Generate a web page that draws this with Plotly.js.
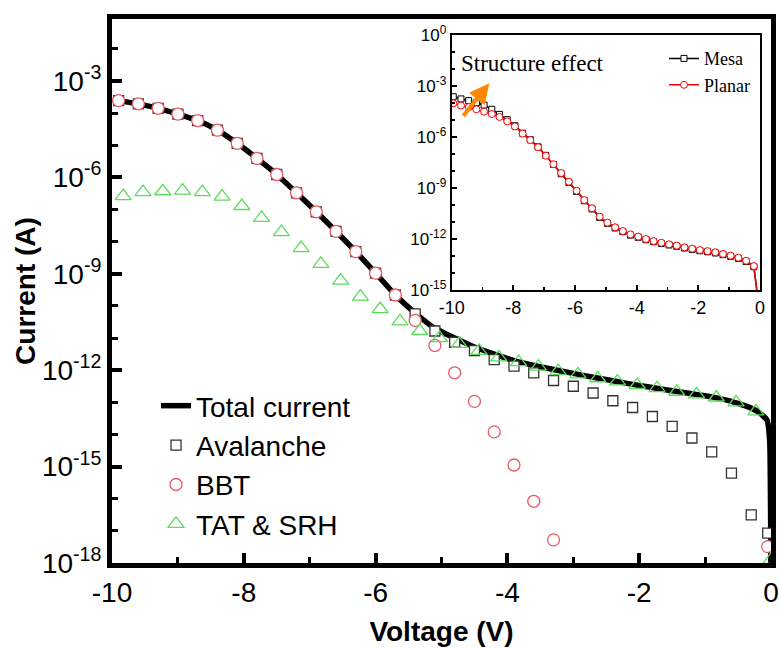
<!DOCTYPE html>
<html>
<head>
<meta charset="utf-8">
<script src="https://cdn.plot.ly/plotly-3.0.1.min.js"></script>
<style>html,body{margin:0;padding:0;background:#fff;}#chart{width:780px;height:648px;}</style>
</head>
<body>
<div id="chart"></div>
<script>
// ---------- Main plot data (voltage in V, current as log10(A)) ----------
const voltage = [-9.9,-9.6,-9.3,-9.0,-8.7,-8.4,-8.1,-7.8,-7.5,-7.2,-6.9,-6.6,-6.3,-6.0,-5.7,-5.4,-5.1,-4.8,-4.5,-4.2,-3.9,-3.6,-3.3,-3.0,-2.7,-2.4,-2.1,-1.8,-1.5,-1.2,-0.9,-0.6,-0.3,-0.05];
const avalancheLog = [-3.61,-3.71,-3.85,-4.03,-4.23,-4.53,-4.94,-5.41,-5.91,-6.48,-7.07,-7.68,-8.31,-8.98,-9.66,-10.25,-10.78,-11.13,-11.39,-11.67,-11.87,-12.08,-12.32,-12.50,-12.71,-12.95,-13.16,-13.44,-13.75,-14.11,-14.54,-15.2,-16.5,-17.07];
const bbtVoltage = [-9.9,-9.6,-9.3,-9.0,-8.7,-8.4,-8.1,-7.8,-7.5,-7.2,-6.9,-6.6,-6.3,-6.0,-5.7,-5.4,-5.1,-4.8,-4.5,-4.2,-3.9,-3.6,-3.3,-0.05];
const bbtLog = [-3.61,-3.71,-3.85,-4.03,-4.23,-4.53,-4.94,-5.41,-5.91,-6.48,-7.07,-7.68,-8.31,-8.98,-9.66,-10.45,-11.23,-12.08,-12.97,-13.92,-14.95,-16.08,-17.28,-17.49];
const tatVoltage = [-9.83,-9.53,-9.23,-8.93,-8.63,-8.33,-8.03,-7.73,-7.43,-7.13,-6.83,-6.53,-6.23,-5.93,-5.63,-5.33,-5.03,-4.73,-4.43,-4.13,-3.83,-3.53,-3.23,-2.93,-2.63,-2.33,-2.03,-1.73,-1.43,-1.13,-0.83,-0.53,-0.23,0];
const tatLog = [-6.58,-6.46,-6.43,-6.41,-6.46,-6.60,-6.89,-7.26,-7.70,-8.20,-8.69,-9.21,-9.71,-10.1,-10.48,-10.78,-11.0,-11.18,-11.4,-11.6,-11.75,-11.89,-12.03,-12.13,-12.25,-12.35,-12.46,-12.56,-12.67,-12.75,-12.85,-13.0,-13.28,-17.9];
const totalVoltage = [-9.9,-9.6,-9.3,-9.0,-8.7,-8.4,-8.1,-7.8,-7.5,-7.2,-6.9,-6.6,-6.3,-6.0,-5.7,-5.4,-5.1,-4.8,-4.5,-4.2,-3.9,-3.6,-3.3,-3.0,-2.7,-2.4,-2.1,-1.8,-1.5,-1.2,-0.9,-0.6,-0.3,-0.18,-0.06,-0.02,0];
const totalLog = [-3.61,-3.71,-3.85,-4.03,-4.23,-4.53,-4.94,-5.41,-5.91,-6.48,-7.07,-7.68,-8.31,-8.98,-9.66,-10.22,-10.7,-11.0,-11.28,-11.5,-11.7,-11.85,-11.98,-12.1,-12.22,-12.33,-12.44,-12.54,-12.64,-12.73,-12.83,-12.97,-13.18,-13.32,-13.55,-14.2,-19];

// ---------- Inset data ----------
const insetVoltage = [-9.95,-9.7,-9.45,-9.2,-8.95,-8.7,-8.45,-8.2,-7.95,-7.7,-7.45,-7.2,-6.95,-6.7,-6.45,-6.2,-5.95,-5.7,-5.45,-5.2,-4.95,-4.7,-4.45,-4.2,-3.95,-3.7,-3.45,-3.2,-2.95,-2.7,-2.45,-2.2,-1.95,-1.7,-1.45,-1.2,-0.95,-0.7,-0.45,-0.2,0];
const mesaLog = [-3.63,-3.76,-3.86,-3.98,-4.12,-4.37,-4.67,-4.98,-5.34,-5.78,-6.16,-6.58,-7.08,-7.62,-8.16,-8.67,-9.2,-9.75,-10.23,-10.73,-11.08,-11.35,-11.57,-11.77,-11.9,-12.04,-12.16,-12.26,-12.35,-12.43,-12.53,-12.61,-12.69,-12.75,-12.82,-12.92,-13.02,-13.14,-13.32,-13.63,-16.5];
const planarLog = [-4.02,-4.15,-4.24,-4.37,-4.51,-4.65,-4.82,-5.08,-5.38,-5.8,-6.18,-6.6,-7.1,-7.6,-8.12,-8.63,-9.16,-9.71,-10.19,-10.69,-11.04,-11.31,-11.53,-11.73,-11.86,-12.0,-12.12,-12.22,-12.31,-12.39,-12.49,-12.57,-12.65,-12.71,-12.78,-12.88,-12.98,-13.1,-13.28,-13.59,-16.5];

// ---------- Tick labels ----------
const mainXTicks = [-10,-8,-6,-4,-2,0];
const mainXTickText = ['-10','-8','-6','-4','-2','0'];
const mainYExp = [-18,-15,-12,-9,-6,-3];
const insetXTicks = [-10,-8,-6,-4,-2,0];
const insetXTickText = ['-10','-8','-6','-4','-2','0'];
const insetYExp = [-15,-12,-9,-6,-3,0];

const toA = arr => arr.map(v => Math.pow(10, v));
const SANS = 'Liberation Sans, Arial, sans-serif';
const SERIF = 'Liberation Serif, Times New Roman, serif';

const traces = [
  {x: totalVoltage, y: toA(totalLog), type:'scatter', mode:'lines', name:'Total current',
   line:{color:'#000', width:5.5, shape:'spline', smoothing:0.4}, xaxis:'x', yaxis:'y', legend:'legend'},
  {x: voltage, y: toA(avalancheLog), type:'scatter', mode:'markers', name:'Avalanche',
   marker:{symbol:'square', size:10, color:'#fff', line:{color:'#333', width:1.3}}, xaxis:'x', yaxis:'y', legend:'legend'},
  {x: bbtVoltage, y: toA(bbtLog), type:'scatter', mode:'markers', name:'BBT',
   marker:{symbol:'circle', size:12, color:'#fff', line:{color:'#e85a62', width:1.3}}, xaxis:'x', yaxis:'y', legend:'legend'},
  {x: tatVoltage, y: toA(tatLog), type:'scatter', mode:'markers', name:'TAT & SRH',
   marker:{symbol:'triangle-up-open', size:14, color:'#5cdc5c', line:{color:'#5cdc5c', width:1.3}}, xaxis:'x', yaxis:'y', legend:'legend'},
  {x: insetVoltage, y: toA(mesaLog), type:'scatter', mode:'lines+markers', name:'Mesa',
   line:{color:'#000', width:1.5}, marker:{symbol:'square', size:6, color:'#fff', line:{color:'#000', width:1}},
   xaxis:'x2', yaxis:'y2', legend:'legend2'},
  {x: insetVoltage, y: toA(planarLog), type:'scatter', mode:'lines+markers', name:'Planar',
   line:{color:'#ff0000', width:1.5}, marker:{symbol:'circle', size:7, color:'#fff', line:{color:'#ff0000', width:1}},
   xaxis:'x2', yaxis:'y2', legend:'legend2'}
];

const supText = e => '10<sup>' + String(e) + '</sup>';

const layout = {
  width:780, height:648,
  margin:{l:112, r:9, t:19, b:85},
  paper_bgcolor:'#fff', plot_bgcolor:'#fff',
  font:{family:SANS, color:'#000'},
  xaxis:{
    domain:[0,1], range:[-10,0], anchor:'y',
    showline:true, linecolor:'#000', linewidth:5, mirror:true,
    showgrid:false, zeroline:false,
    ticks:'inside', ticklen:10, tickwidth:4, tickcolor:'#000',
    tickmode:'array', tickvals:mainXTicks, ticktext:mainXTickText,
    tickfont:{family:SANS, size:28, color:'#000'},
    minor:{tickmode:'linear', tick0:-10, dtick:1, ticks:'inside', ticklen:6, tickwidth:3, tickcolor:'#000', showgrid:false},
    title:{text:'<b>Voltage (V)</b>', font:{family:SANS, size:28, color:'#000'}, standoff:16}
  },
  yaxis:{
    domain:[0,1], type:'log', range:[-18,-1.07], anchor:'x',
    showline:true, linecolor:'#000', linewidth:5, mirror:true,
    showgrid:false, zeroline:false,
    ticks:'inside', ticklen:10, tickwidth:4, tickcolor:'#000',
    tickmode:'array', tickvals:mainYExp.map(e=>Math.pow(10,e)), ticktext:mainYExp.map(supText),
    tickfont:{family:SANS, size:28, color:'#000'},
    minor:{tickmode:'linear', tick0:0, dtick:1, ticks:'inside', ticklen:6, tickwidth:3, tickcolor:'#000', showgrid:false},
    title:{text:'<b>Current (A)</b>', font:{family:SANS, size:28, color:'#000'}, standoff:0}
  },
  xaxis2:{
    domain:[0.5155,0.9833], range:[-10,0], anchor:'y2',
    showline:true, linecolor:'#000', linewidth:2, mirror:true,
    showgrid:false, zeroline:false,
    ticks:'inside', ticklen:5, tickwidth:2, tickcolor:'#000',
    tickmode:'array', tickvals:insetXTicks, ticktext:insetXTickText,
    tickfont:{family:SANS, size:18, color:'#000'},
    minor:{tickmode:'linear', tick0:-10, dtick:1, ticks:'inside', ticklen:3, tickwidth:1.5, tickcolor:'#000', showgrid:false}
  },
  yaxis2:{
    domain:[0.5018,0.9706], type:'log', range:[-15,0], anchor:'x2',
    showline:true, linecolor:'#000', linewidth:2, mirror:true,
    showgrid:false, zeroline:false,
    ticks:'inside', ticklen:5, tickwidth:2, tickcolor:'#000',
    tickmode:'array', tickvals:insetYExp.map(e=>Math.pow(10,e)), ticktext:insetYExp.map(supText),
    tickfont:{family:SANS, size:17, color:'#000'},
    minor:{tickmode:'linear', tick0:0, dtick:1, ticks:'inside', ticklen:3, tickwidth:1.5, tickcolor:'#000', showgrid:false}
  },
  legend:{
    x:0.0668, y:0.3346, xanchor:'left', yanchor:'top',
    bgcolor:'rgba(0,0,0,0)', borderwidth:0,
    font:{family:SANS, size:28, color:'#000'}, tracegroupgap:0
  },
  legend2:{
    x:0.8376, y:0.961, xanchor:'left', yanchor:'top',
    bgcolor:'rgba(0,0,0,0)', borderwidth:0,
    font:{family:SERIF, size:18, color:'#000'}
  },
  annotations:[
    {xref:'x2', yref:'y2', x:-9.75, y:-1.66, xanchor:'left', yanchor:'middle',
     text:'Structure effect', showarrow:false, font:{family:SERIF, size:23, color:'#000'}},
    {xref:'x2', yref:'y2', x:-8.78, y:-2.84, axref:'x2', ayref:'y2', ax:-9.66, ay:-4.84,
     text:'', showarrow:true, arrowcolor:'#ff8800', arrowwidth:4, arrowhead:2, arrowsize:1}
  ],
  showlegend:true
};

Plotly.newPlot('chart', traces, layout, {displayModeBar:false, staticPlot:true});
</script>
</body>
</html>
